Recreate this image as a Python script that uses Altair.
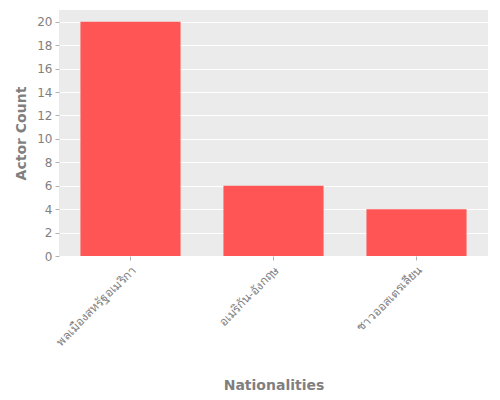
import altair as alt
import pandas as pd

nationalities = ["พลเมืองสหรัฐอเมริกา", "อเมริกัน-อังกฤษ", "ชาวออสเตรเลียน"]
counts = [20, 6, 4]

df = pd.DataFrame({"Nationalities": nationalities, "Actor Count": counts})

chart = alt.Chart(df).mark_bar(color="#FF5555").encode(
    x=alt.X("Nationalities:N", sort=nationalities,
            scale=alt.Scale(paddingInner=0.3, paddingOuter=0.15),
            axis=alt.Axis(labelAngle=-45, labelFontSize=12, labelColor="#7f7f7f",
                          tickColor="#b0b0b0", tickSize=4, domain=False,
                          titleFontSize=14, titleColor="#7f7f7f", titleFontWeight="bold",
                          titleY=129, titleBaseline="middle", labelPadding=4)),
    y=alt.Y("Actor Count:Q", scale=alt.Scale(domain=[0, 21], nice=False),
            axis=alt.Axis(values=list(range(0, 21, 2)), labelFontSize=12, labelColor="#7f7f7f",
                          tickColor="#b0b0b0", tickSize=4, domain=False, gridColor="white",
                          gridWidth=1, titleFontSize=14, titleColor="#7f7f7f",
                          titleFontWeight="bold", titlePadding=8, labelPadding=3)),
).properties(
    width=429, height=246,
    autosize=alt.AutoSizeParams(type="none"),
    padding={"left": 51, "top": 2, "right": 4, "bottom": 138},
).configure(
    font="DejaVu Sans"
).configure_view(
    fill="#EBEBEB", stroke=None
)

chart.save("out.html", embed_options={"renderer": "svg", "actions": False})
